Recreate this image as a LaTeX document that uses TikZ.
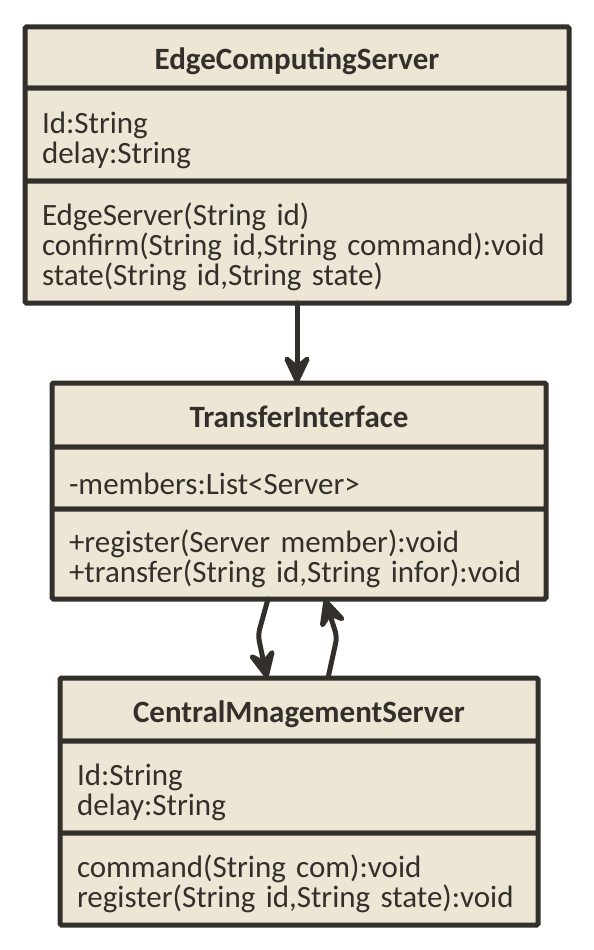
\documentclass[tikz,border=0pt]{standalone}
\usepackage{fontspec}
\setmainfont{Carlito}
\usetikzlibrary{arrows.meta,positioning}
\definecolor{umlfill}{HTML}{EEE6D5}
\definecolor{umlline}{HTML}{33302C}

\begin{document}
\begin{tikzpicture}[
  x=1pt, y=-1pt,
  part/.style={draw=umlline, fill=umlfill, line width=5pt, inner sep=0pt, outer sep=0pt,
               rounded corners=1.5pt, text=umlline, font=\fontsize{31}{30}\selectfont},
  head/.style={part, text height=31pt, text depth=6pt, font=\fontsize{31}{30}\selectfont\bfseries},
  body/.style={part, align=left, execute at begin node={\rule{0pt}{33pt}}},
  link/.style={draw=umlline, line width=5pt, line join=round, line cap=round, rounded corners=6pt,
               -{Stealth[length=36pt, width=34pt, inset=14pt, round]}}
]
  \useasboundingbox (0,0) rectangle (594,950);

  \node[head, minimum width=544pt, minimum height=61pt] (ecsHead) at (297,57.5) {EdgeComputingServer};
  \node[body, minimum width=544pt, minimum height=93pt, text width=510pt, below=0pt of ecsHead] (ecsAttr)
    {Id:String\\delay:String};
  \node[body, minimum width=544pt, minimum height=122pt, text width=510pt, below=0pt of ecsAttr] (ecsMeth)
    {EdgeServer(String id)\\confirm(String id,String command):void\\state(String id,String state)};

  \node[head, minimum width=494pt, minimum height=64pt] (tiHead) at (299,415) {TransferInterface};
  \node[body, minimum width=494pt, minimum height=62pt, text width=460pt, below=0pt of tiHead,
        execute at begin node={}] (tiAttr)
    {-members:List<Server>};
  \node[body, minimum width=494pt, minimum height=90pt, text width=460pt, below=0pt of tiAttr] (tiMeth)
    {+register(Server member):void\\+transfer(String id,String infor):void};

  \node[head, minimum width=478pt, minimum height=63pt] (cmsHead) at (299,709.5) {CentralMnagementServer};
  \node[body, minimum width=478pt, minimum height=92pt, text width=444pt, below=0pt of cmsHead] (cmsAttr)
    {Id:String\\delay:String};
  \node[body, minimum width=478pt, minimum height=92pt, text width=444pt, below=0pt of cmsAttr] (cmsMeth)
    {command(String com):void\\register(String id,String state):void};

  \draw[link] (ecsMeth.south) -- (ecsMeth.south |- tiHead.north);
  \draw[link] ([xshift=-31pt]tiMeth.south) -- ([xshift=-41pt, yshift=-36pt]tiMeth.south)
    -- ([xshift=-32pt]cmsHead.north);
  \draw[link] ([xshift=29pt]cmsHead.north) -- ([xshift=38pt, yshift=41pt]cmsHead.north)
    -- ([xshift=26pt]tiMeth.south);
\end{tikzpicture}
\end{document}
